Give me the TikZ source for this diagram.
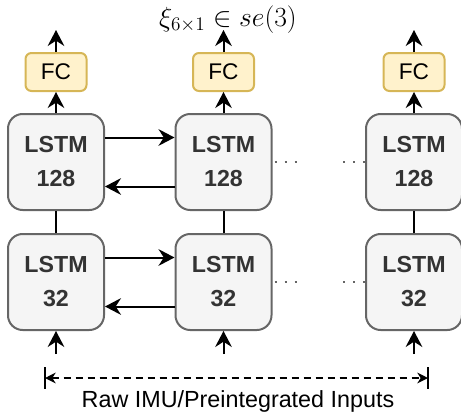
\documentclass[tikz,border=0pt]{standalone}
\usepackage[no-math]{fontspec}
\setmainfont{Liberation Sans}
\usetikzlibrary{arrows.meta,calc}
\definecolor{lstmfill}{HTML}{F5F5F5}
\definecolor{lstmdraw}{HTML}{666666}
\definecolor{lstmtext}{HTML}{333333}
\definecolor{fcfill}{HTML}{FFF2CC}
\definecolor{fcdraw}{HTML}{D6B656}
\begin{document}
\begin{tikzpicture}[x=0.75pt,y=-0.75pt,
  lstm/.style={draw=lstmdraw, fill=lstmfill, line width=1.5pt, rounded corners=11pt,
    minimum width=72pt, minimum height=72pt, inner sep=0pt, text=lstmtext,
    font=\fontsize{17.4}{25.5}\selectfont\bfseries, align=center},
  fc/.style={draw=fcdraw, fill=fcfill, line width=1.5pt, rounded corners=4.5pt,
    minimum width=45.75pt, minimum height=28.5pt, inner sep=0pt,
    font=\fontsize{17}{20}\selectfont},
  arr/.style={line width=1.5pt, -{Stealth[length=12pt,width=12.5pt,inset=4pt]}},
  link/.style={line width=1.5pt},
  dots/.style={line width=1.5pt, draw=lstmdraw, dash pattern=on 1.5pt off 6pt},
  dimline/.style={line width=1.5pt, dash pattern=on 5.25pt off 3.75pt,
    {Stealth[length=8pt,width=8pt,inset=2.5pt]}-{Stealth[length=8pt,width=8pt,inset=2.5pt]}},
  barline/.style={line width=1.5pt},
]
\useasboundingbox (0,0) rectangle (461,419);

% LSTM layers: top row (128 units), bottom row (32 units)
\node[lstm] (t1) at (56,162) {LSTM\\128};
\node[lstm] (t2) at (223.5,162) {LSTM\\128};
\node[lstm] (t3) at (414,162) {LSTM\\128};
\node[lstm] (b1) at (56,282) {LSTM\\32};
\node[lstm] (b2) at (223.5,282) {LSTM\\32};
\node[lstm] (b3) at (414,282) {LSTM\\32};

% fully connected heads
\node[fc] (f1) at (56,72) {FC};
\node[fc] (f2) at (223.5,72) {FC};
\node[fc] (f3) at (414,72) {FC};

% output label
\node[anchor=base, inner sep=0pt, font=\fontsize{20.5}{24}\selectfont] (title) at (228,26.5) {$\xi_{6\times 1}\in se(3)$};

% outputs above the FC heads
\foreach \i in {1,2,3} {
  \coordinate (o\i) at ($(f\i.north)+(0,-22)$);
  \draw[arr] (f\i.north) -- (o\i);
  \draw[arr] (t\i.north) -- (f\i.south);
  \draw[link] (b\i.north) -- (t\i.south);
  \coordinate (in\i) at ($(b\i.south)+(0,23)$);
  \draw[arr] (in\i) -- (b\i.south);
}

% bidirectional recurrent connections
\foreach \r in {t,b} {
  \draw[arr] ($(\r1.north east)!0.25!(\r1.south east)$) -- ($(\r2.north west)!0.25!(\r2.south west)$);
  \draw[arr] ($(\r2.north west)!0.75!(\r2.south west)$) -- ($(\r1.north east)!0.75!(\r1.south east)$);
  \coordinate (\r dA) at ($(\r2.east)+(24,0)$);
  \coordinate (\r dB) at ($(\r3.west)+(-22,0)$);
  \draw[dots] ($(\r2.east)+(2,0)$) -- (\r dA);
  \draw[dots] (\r dB) -- (\r3.west);
}

% input span
\coordinate (inL) at (45,378);
\coordinate (inR) at (428,378);
\draw[dimline] (inL) -- (inR);
\draw[barline] ($(inL)+(0,-11)$) -- ($(inL)+(0,11)$);
\draw[barline] ($(inR)+(0,-11)$) -- ($(inR)+(0,11)$);
\node[anchor=base, font=\fontsize{17.5}{21}\selectfont] (inputs) at (238,407) {Raw IMU/Preintegrated Inputs};
\end{tikzpicture}
\end{document}
